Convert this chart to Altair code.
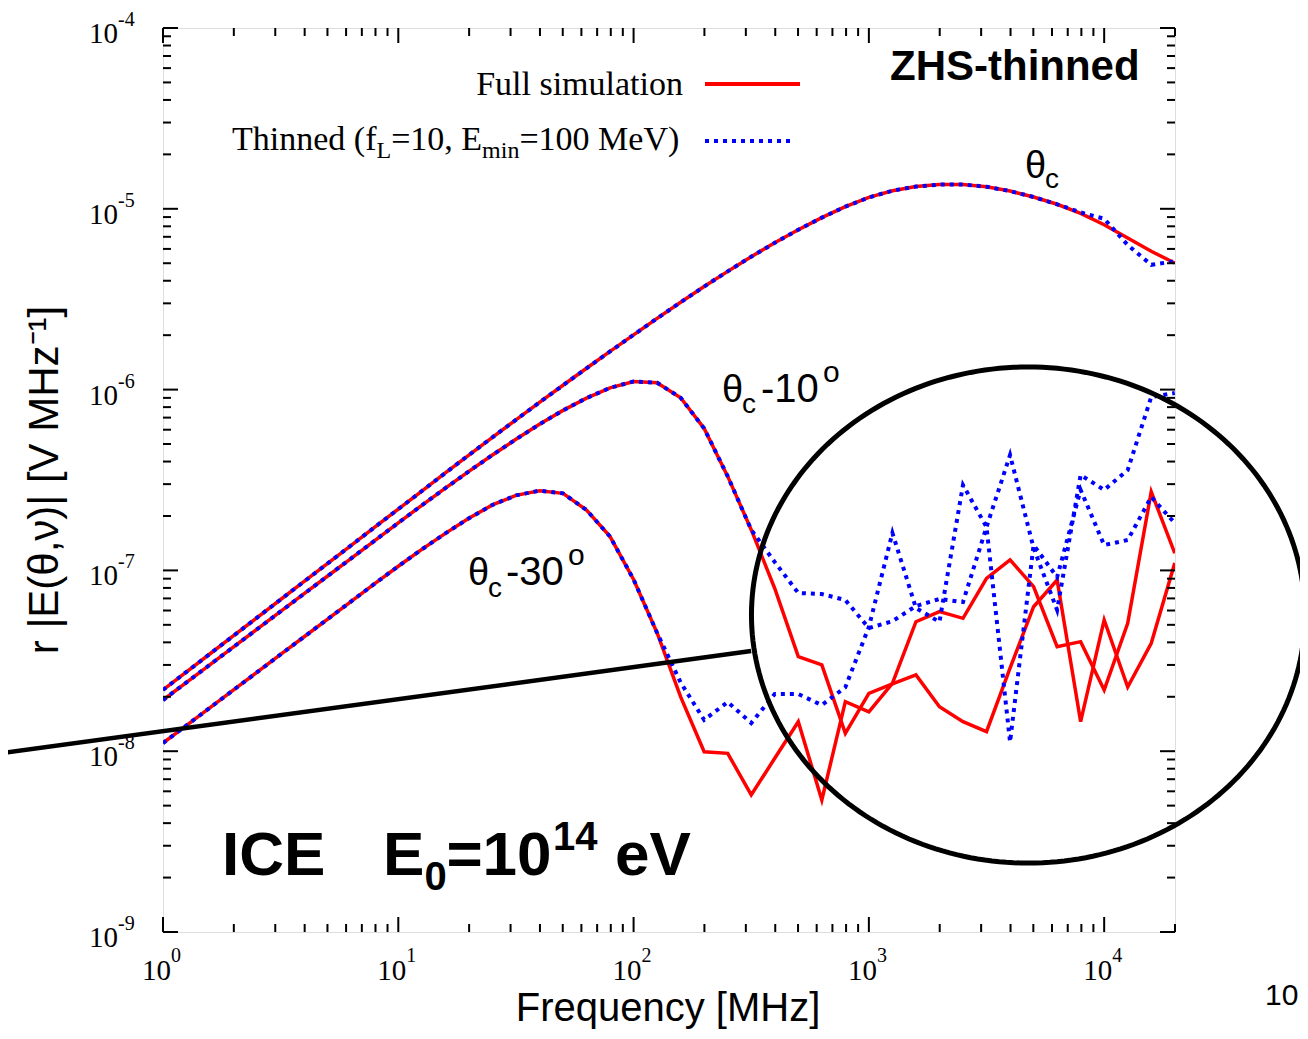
import altair as alt
import numpy as np
import pandas as pd

# ---------------- data ----------------
freq_mhz = [1.0, 1.259, 1.585, 1.995, 2.512, 3.162, 3.981, 5.012, 6.31, 7.943,
            10.0, 12.59, 15.85, 19.95, 25.12, 31.62, 39.81, 50.12, 63.1, 79.43,
            100.0, 125.9, 158.5, 199.5, 251.2, 316.2, 398.1, 501.2, 631.0, 794.3,
            1000.0, 1259.0, 1585.0, 1995.0, 2512.0, 3162.0, 3981.0, 5012.0, 6310.0, 7943.0,
            10000.0, 12589.0, 15849.0, 19953.0]

# log10 of r|E| [V/MHz]
log10_thc_full = [-7.661, -7.561, -7.461, -7.361, -7.261, -7.161, -7.061, -6.961, -6.861, -6.761,
                  -6.661, -6.561, -6.461, -6.362, -6.264, -6.167, -6.071, -5.976, -5.882, -5.789,
                  -5.697, -5.606, -5.517, -5.430, -5.346, -5.265, -5.188, -5.116, -5.049, -4.988,
                  -4.937, -4.900, -4.877, -4.866, -4.866, -4.878, -4.902, -4.935, -4.975, -5.025,
                  -5.088, -5.162, -5.235, -5.300]
log10_thc_thin = [-7.661, -7.561, -7.461, -7.361, -7.261, -7.161, -7.061, -6.961, -6.861, -6.761,
                  -6.661, -6.561, -6.461, -6.362, -6.264, -6.167, -6.071, -5.976, -5.882, -5.789,
                  -5.697, -5.606, -5.517, -5.430, -5.346, -5.265, -5.188, -5.116, -5.049, -4.988,
                  -4.937, -4.900, -4.877, -4.866, -4.866, -4.878, -4.902, -4.935, -4.975, -5.020,
                  -5.055, -5.200, -5.310, -5.290]
log10_thc10_full = [-7.717, -7.619, -7.521, -7.423, -7.325, -7.227, -7.129, -7.031, -6.933, -6.835,
                    -6.737, -6.640, -6.545, -6.452, -6.362, -6.275, -6.192, -6.115, -6.047, -5.990,
                    -5.955, -5.962, -6.045, -6.215, -6.480, -6.775, -7.100, -7.477, -7.523, -7.901,
                    -7.680, -7.628, -7.578, -7.754, -7.837, -7.892, -7.540, -7.201, -7.053, -7.837,
                    -7.274, -7.645, -7.403, -6.959]
log10_thc10_thin = [-7.717, -7.619, -7.521, -7.423, -7.325, -7.227, -7.129, -7.031, -6.933, -6.835,
                    -6.737, -6.640, -6.545, -6.452, -6.362, -6.275, -6.192, -6.115, -6.047, -5.990,
                    -5.955, -5.962, -6.045, -6.215, -6.480, -6.775, -6.954, -7.125, -7.131, -7.164,
                    -7.319, -7.281, -7.197, -7.158, -7.175, -6.760, -6.362, -6.876, -7.219, -6.472,
                    -6.555, -6.445, -6.041, -6.019]
log10_thc30_full = [-7.955, -7.857, -7.759, -7.661, -7.563, -7.465, -7.367, -7.269, -7.171, -7.073,
                    -6.977, -6.884, -6.795, -6.712, -6.638, -6.585, -6.559, -6.574, -6.666, -6.813,
                    -7.050, -7.346, -7.700, -8.003, -8.012, -8.242, -8.039, -7.837, -8.270, -7.726,
                    -7.782, -7.625, -7.284, -7.228, -7.265, -7.044, -6.942, -7.090, -7.422, -7.394,
                    -7.662, -7.293, -6.565, -6.905]
log10_thc30_thin = [-7.955, -7.857, -7.759, -7.661, -7.563, -7.465, -7.367, -7.269, -7.171, -7.073,
                    -6.977, -6.884, -6.795, -6.712, -6.638, -6.585, -6.559, -6.574, -6.666, -6.813,
                    -7.050, -7.346, -7.620, -7.827, -7.728, -7.844, -7.684, -7.684, -7.745, -7.646,
                    -7.313, -6.793, -7.208, -7.285, -6.528, -6.760, -7.949, -6.860, -7.037, -6.555,
                    -6.860, -6.832, -6.594, -6.738]

x_major = [1, 10, 100, 1000, 10000]
x_exp = ["0", "1", "2", "3", "4"]
y_major = [1e-9, 1e-8, 1e-7, 1e-6, 1e-5, 1e-4]
y_exp = ["-9", "-8", "-7", "-6", "-5", "-4"]
x_minor = [m * 10 ** d for d in range(0, 4) for m in range(2, 10)] + [20000]
y_minor = [m * 10.0 ** d for d in range(-9, -4) for m in range(2, 10)]

# annotation ellipse / pointer (in log10 data units)
ellipse_center = (3.677, -7.247)
ellipse_radius = (1.176, 1.372)
pointer_freq = [0.203, 316.0]
pointer_E = [9.73e-9, 3.58e-8]

# ---------------- build tables ----------------
def series(name, sim, logs):
    return pd.DataFrame({"freq": freq_mhz, "E": [10.0 ** v for v in logs],
                         "curve": name, "sim": sim, "k": list(range(len(freq_mhz)))})

df_full = pd.concat([series("thc", "full", log10_thc_full),
                     series("thc10", "full", log10_thc10_full),
                     series("thc30", "full", log10_thc30_full)])
df_thin = pd.concat([series("thc", "thin", log10_thc_thin),
                     series("thc10", "thin", log10_thc10_thin),
                     series("thc30", "thin", log10_thc30_thin)])

t = np.linspace(0, 2 * np.pi, 241)
df_ell = pd.DataFrame({"freq": 10 ** (ellipse_center[0] + ellipse_radius[0] * np.cos(t)),
                       "E": 10 ** (ellipse_center[1] + ellipse_radius[1] * np.sin(t)),
                       "k": np.arange(len(t))})
df_ptr = pd.DataFrame({"freq": pointer_freq, "E": pointer_E, "k": [0, 1]})

W, H = 1012, 904
xs = alt.Scale(type="log", domain=[1, 20000], nice=False)
ys = alt.Scale(type="log", domain=[1e-9, 1e-4], nice=False)
X = alt.X("freq:Q", scale=xs, axis=None)
Y = alt.Y("E:Q", scale=ys, axis=None)

RED = "#ff0000"
BLUE = "#0000ff"
SERIF = "Liberation Serif"
SANS = "Liberation Sans"

red = alt.Chart(df_full).mark_line(color=RED, strokeWidth=3.5, clip=True).encode(
    x=X, y=Y, detail="curve:N", order="k:Q")
blue = alt.Chart(df_thin).mark_line(color=BLUE, strokeWidth=4, strokeDash=[4, 5], clip=True).encode(
    x=X, y=Y, detail="curve:N", order="k:Q")

ell = alt.Chart(df_ell).mark_line(color="black", strokeWidth=5, clip=False).encode(x=X, y=Y, order="k:Q")
ptr = alt.Chart(df_ptr).mark_line(color="black", strokeWidth=4.5, clip=False).encode(x=X, y=Y, order="k:Q")

# ticks (inward, all four sides)
def xticks(vals, L):
    d = pd.DataFrame({"v": vals})
    xe = alt.X("v:Q", scale=xs, axis=None)
    b = alt.Chart(d).mark_rule(color="black", strokeWidth=2).encode(x=xe, y=alt.value(H), y2=alt.value(H - L))
    tp = alt.Chart(d).mark_rule(color="black", strokeWidth=2).encode(x=xe, y=alt.value(0), y2=alt.value(L))
    return [b, tp]

def yticks(vals, L):
    d = pd.DataFrame({"v": vals})
    ye = alt.Y("v:Q", scale=ys, axis=None)
    lft = alt.Chart(d).mark_rule(color="black", strokeWidth=2).encode(y=ye, x=alt.value(0), x2=alt.value(L))
    rgt = alt.Chart(d).mark_rule(color="black", strokeWidth=2).encode(y=ye, x=alt.value(W), x2=alt.value(W - L))
    return [lft, rgt]

tick_layers = xticks(x_major, 15) + xticks(x_minor, 8) + yticks(y_major, 15) + yticks(y_minor, 8)

# tick labels 10^n
dxl = pd.DataFrame({"v": x_major, "e": x_exp})
xl_base = alt.Chart(dxl).mark_text(font=SERIF, fontSize=29, align="right", baseline="alphabetic", dx=8,
                                   color="black").encode(x=alt.X("v:Q", scale=xs, axis=None),
                                                         y=alt.value(952), text=alt.value("10"))
xl_exp = alt.Chart(dxl).mark_text(font=SERIF, fontSize=20, align="left", baseline="alphabetic", dx=8,
                                  color="black").encode(x=alt.X("v:Q", scale=xs, axis=None),
                                                        y=alt.value(934), text="e:N")
dyl = pd.DataFrame({"v": y_major, "e": y_exp})
yl_base = alt.Chart(dyl).mark_text(font=SERIF, fontSize=29, align="right", baseline="alphabetic", dy=15,
                                   color="black").encode(y=alt.Y("v:Q", scale=ys, axis=None),
                                                         x=alt.value(-45), text=alt.value("10"))
yl_exp = alt.Chart(dyl).mark_text(font=SERIF, fontSize=20, align="left", baseline="alphabetic", dy=-2,
                                  color="black").encode(y=alt.Y("v:Q", scale=ys, axis=None),
                                                        x=alt.value(-45), text="e:N")

one = alt.Data(values=[{"a": 1}])

def txt(s, x, y, size, font=SANS, weight="normal", align="left", angle=0, baseline="alphabetic", color="black"):
    return alt.Chart(one).mark_text(text=s, font=font, fontSize=size, fontWeight=weight, align=align,
                                    baseline=baseline, angle=angle, color=color).encode(
        x=alt.value(x), y=alt.value(y))

texts = [
    # axis titles
    txt("Frequency [MHz]", 505, 993, 40, align="center"),
    txt("r |E(θ,ν)|  [V MHz⁻¹]", -118, 452, 42, align="center", angle=270, baseline="middle"),
    # legend
    txt("Full simulation", 520, 67, 34, font=SERIF, align="right"),
    txt("Thinned (f", 69, 122, 34, font=SERIF),
    txt("L", 213.5, 130, 24, font=SERIF),
    txt("=10, E", 228.2, 122, 34, font=SERIF),
    txt("min", 319.1, 130, 24, font=SERIF),
    txt("=100 MeV)", 356.4, 122, 34, font=SERIF),
    # corner label
    txt("ZHS-thinned", 727, 52, 42, weight="bold"),
    # curve labels
    txt("θ", 862, 150, 38), txt("c", 882, 160, 28),
    txt("θ", 559, 374, 38), txt("c", 579, 385, 28), txt("-10", 598, 374, 40), txt("o", 660, 354, 30),
    txt("θ", 305, 557, 38), txt("c", 325, 569, 28), txt("-30", 343, 557, 40), txt("o", 405, 537, 30),
    # ICE E0=10^14 eV
    txt("ICE", 59, 847, 62, weight="bold"),
    txt("E", 220, 847, 62, weight="bold"),
    txt("0", 261.4, 862, 40, weight="bold"),
    txt("=10", 283.4, 847, 62, weight="bold"),
    txt("14", 390, 822, 40, weight="bold"),
    txt("eV", 452, 847, 62, weight="bold"),
    # page number fragment
    txt("10", 1102, 977, 30),
]

legend_red = alt.Chart(one).mark_rule(color=RED, strokeWidth=4).encode(
    x=alt.value(542), x2=alt.value(637), y=alt.value(56))
legend_blue = alt.Chart(one).mark_rule(color=BLUE, strokeWidth=4, strokeDash=[4, 5]).encode(
    x=alt.value(542), x2=alt.value(632), y=alt.value(113))

chart = alt.layer(
    red, blue, *tick_layers, xl_base, xl_exp, yl_base, yl_exp,
    legend_red, legend_blue, *texts, ell, ptr
).properties(
    width=W, height=H,
    padding={"left": 155, "top": 20, "right": 125, "bottom": 99},
    autosize=alt.AutoSizeParams(type="none"),
).configure_view(stroke="black", strokeWidth=2.5).configure(background="white")

chart.save("out.html", embed_options={"renderer": "svg", "actions": False})
